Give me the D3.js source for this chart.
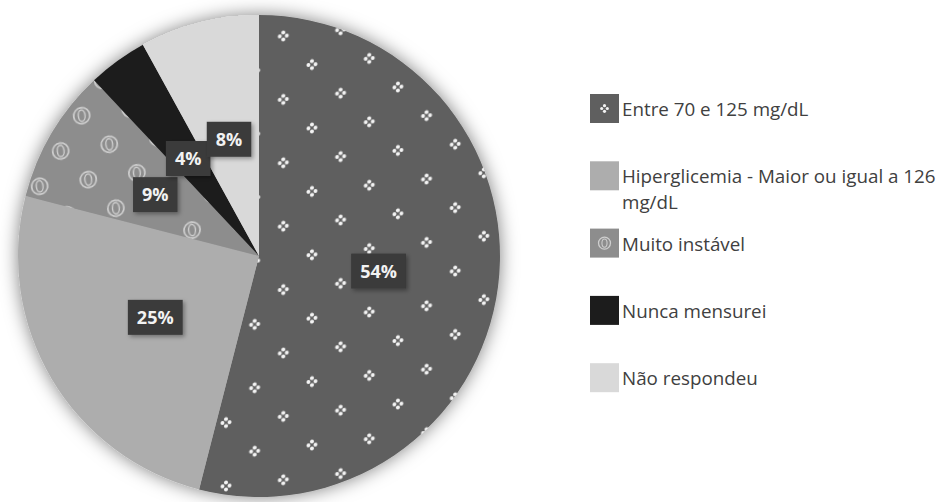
<!DOCTYPE html>
<html>
<head>
<meta charset="utf-8">
<script src="https://cdn.jsdelivr.net/npm/d3@7/dist/d3.min.js"></script>
<style>
  html, body { margin: 0; padding: 0; background: #ffffff; }
  svg { display: block; }
</style>
</head>
<body>
<svg id="chart" width="944" height="502"></svg>
<script>
// Blood glucose answers (share of respondents, %)
const categories = [
  "Entre 70 e 125 mg/dL",
  "Hiperglicemia - Maior ou igual a 126 mg/dL",
  "Muito instável",
  "Nunca mensurei",
  "Não respondeu"
];
const values = [54, 25, 9, 4, 8];
const valueLabels = values.map(v => v + "%");

// Fill per slice; some slices carry a texture pattern
const sliceColors = ["#5f5f5f", "#adadad", "#8d8d8d", "#1c1c1c", "#d9d9d9"];
const slicePatterns = ["dots", null, "rings", null, null];

const svg = d3.select("#chart");
const cx = 259, cy = 256, radius = 241;

const defs = svg.append("defs");

// soft halo around the pie
const halo = defs.append("filter").attr("id", "halo")
  .attr("x", "-20%").attr("y", "-20%").attr("width", "140%").attr("height", "140%");
halo.append("feDropShadow").attr("dx", 0).attr("dy", 0)
  .attr("stdDeviation", 9).attr("flood-color", "#000").attr("flood-opacity", 0.5);

// shadow under the value boxes
const boxShadow = defs.append("filter").attr("id", "boxShadow")
  .attr("x", "-30%").attr("y", "-30%").attr("width", "160%").attr("height", "160%");
boxShadow.append("feDropShadow").attr("dx", 2).attr("dy", 2)
  .attr("stdDeviation", 2).attr("flood-color", "#000").attr("flood-opacity", 0.35);

// small four-dot diamond glyph
function dotGlyph(g, x, y, s = 1) {
  const d = 3.5 * s;
  [[0, -d], [d, 0], [0, d], [-d, 0]].forEach(([dx, dy]) => {
    g.append("circle").attr("cx", x + dx).attr("cy", y + dy)
      .attr("r", 2.0 * s).attr("fill", "#f3f3f3");
  });
}
// ring glyph with an inner lens
function ringGlyph(g, x, y, s = 1) {
  g.append("circle").attr("cx", x).attr("cy", y).attr("r", 8 * s)
    .attr("fill", "none").attr("stroke", "#cfcfcf").attr("stroke-width", 1.7 * s);
  g.append("ellipse").attr("cx", x).attr("cy", y).attr("rx", 3.4 * s).attr("ry", 5.6 * s)
    .attr("fill", "none").attr("stroke", "#cfcfcf").attr("stroke-width", 1.4 * s);
}

// Lattice textures (user space is the pie group, centred on cx, cy)
function latticePattern(id, bg, W, H, matrix, ox, oy, glyph) {
  const p = defs.append("pattern").attr("id", id)
    .attr("patternUnits", "userSpaceOnUse")
    .attr("width", W).attr("height", H)
    .attr("patternTransform", `translate(${ox},${oy}) matrix(${matrix.join(",")})`);
  p.append("rect").attr("width", W).attr("height", H).attr("fill", bg);
  [[0, 0], [W, 0], [0, H], [W, H], [W / 2, H / 2]].forEach(([x, y]) => glyph(p, x, y));
}
latticePattern("dots", sliceColors[0], 57.3, 63.4, [1, -0.108, 0, 1, 0, 0],
  283.3 - cx, 36 - cy, dotGlyph);
latticePattern("rings", sliceColors[2], 48.6, 63.9, [1, -0.138, 0.103, 1, 0, 0],
  81.7 - cx, 115.7 - cy, ringGlyph);

const pie = d3.pie().sort(null).value(d => d)(values);
const arc = d3.arc().innerRadius(0).outerRadius(radius);

const g = svg.append("g").attr("transform", `translate(${cx},${cy})`);

g.append("g").attr("filter", "url(#halo)")
  .selectAll("path").data(pie).join("path")
  .attr("d", arc)
  .attr("fill", (d, i) => slicePatterns[i] ? `url(#${slicePatterns[i]})` : sliceColors[i]);

// Value labels in dark boxes at slice centroids
const labels = g.append("g").selectAll("g").data(pie).join("g")
  .attr("transform", d => `translate(${arc.centroid(d)})`);
labels.each(function (d, i) {
  const lg = d3.select(this);
  const rect = lg.append("rect").attr("fill", "#3b3b3b").attr("filter", "url(#boxShadow)");
  const t = lg.append("text")
    .attr("text-anchor", "middle").attr("dy", "0.36em")
    .attr("font-family", "'Open Sans', sans-serif").attr("font-weight", 700)
    .attr("font-size", 18).attr("fill", "#f2f2f2")
    .text(valueLabels[i]);
  const w = t.node().getComputedTextLength() + 18, h = 35;
  rect.attr("x", -w / 2).attr("y", -h / 2).attr("width", w).attr("height", h);
});

// Legend
const legendX = 590, legendTop = 94, legendStep = 67.3, sw = 29;
const textX = 622, maxTextWidth = 944 - textX;
const legend = svg.append("g");
categories.forEach((name, i) => {
  const y = legendTop + i * legendStep;
  const item = legend.append("g");
  item.append("rect").attr("x", legendX).attr("y", y).attr("width", sw).attr("height", sw)
    .attr("fill", sliceColors[i]);
  if (slicePatterns[i] === "dots") dotGlyph(item, legendX + sw / 2, y + sw / 2, 0.8);
  if (slicePatterns[i] === "rings") ringGlyph(item, legendX + sw / 2, y + sw / 2, 0.75);

  const text = item.append("text")
    .attr("x", textX).attr("y", y + 22)
    .attr("font-family", "'Open Sans', sans-serif").attr("font-size", 18.8)
    .attr("fill", "#404040");
  // wrap words onto extra lines when too wide
  const words = name.split(" ");
  let line = [];
  let tspan = text.append("tspan").attr("x", textX).attr("dy", 0);
  words.forEach(w => {
    line.push(w);
    tspan.text(line.join(" "));
    if (tspan.node().getComputedTextLength() > maxTextWidth && line.length > 1) {
      line.pop();
      tspan.text(line.join(" "));
      line = [w];
      tspan = text.append("tspan").attr("x", textX).attr("dy", 26).text(w);
    }
  });
});
</script>
</body>
</html>
